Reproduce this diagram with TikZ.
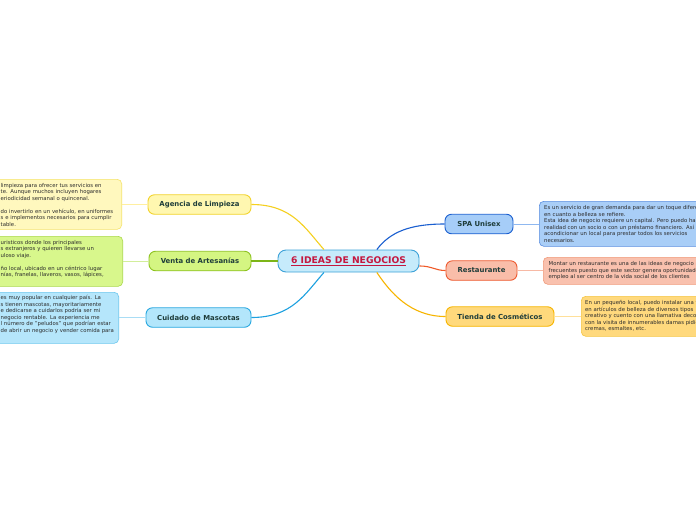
\documentclass[tikz,border=0pt]{standalone}
\usepackage{fontspec}
\setmainfont{DejaVu Sans}
\definecolor{ctrfill}{HTML}{C6EBFB}
\definecolor{ctrdraw}{HTML}{3DA2D8}
\definecolor{ctrtext}{HTML}{C4173F}
\definecolor{btext}{HTML}{1F3D3A}
\definecolor{ntext}{HTML}{2B2B2B}
\definecolor{yfill}{HTML}{FFF7B0}\definecolor{ydraw}{HTML}{F2D32B}\definecolor{ynfill}{HTML}{FFF8BE}\definecolor{yndraw}{HTML}{F5E36B}\definecolor{ylink}{HTML}{F5D020}\definecolor{yleaf}{HTML}{FFEFA0}
\definecolor{gfill}{HTML}{D4F582}\definecolor{gdraw}{HTML}{8DC21F}\definecolor{gnfill}{HTML}{D8F78C}\definecolor{gndraw}{HTML}{AAD84B}\definecolor{glink}{HTML}{7CB518}\definecolor{gleaf}{HTML}{D2EE9B}
\definecolor{bfill}{HTML}{B3E6FB}\definecolor{bdraw}{HTML}{29A8E0}\definecolor{bnfill}{HTML}{B5E6FB}\definecolor{bndraw}{HTML}{6CC7EE}\definecolor{blink}{HTML}{1DA1E0}\definecolor{bleaf}{HTML}{A9DDF5}
\definecolor{sfill}{HTML}{A6CDF8}\definecolor{sdraw}{HTML}{1A5FD0}\definecolor{snfill}{HTML}{A9CEF7}\definecolor{sndraw}{HTML}{5B8FE0}\definecolor{slink}{HTML}{1A5FD0}\definecolor{sleaf}{HTML}{8FB8F0}
\definecolor{rfill}{HTML}{F9BDA9}\definecolor{rdraw}{HTML}{EE5A30}\definecolor{rnfill}{HTML}{F9C1AE}\definecolor{rndraw}{HTML}{F09A7A}\definecolor{rlink}{HTML}{F05A28}\definecolor{rleaf}{HTML}{F7B9A5}
\definecolor{ofill}{HTML}{FFD97C}\definecolor{odraw}{HTML}{F7B500}\definecolor{onfill}{HTML}{FFD97D}\definecolor{ondraw}{HTML}{F5C542}\definecolor{olink}{HTML}{F7B500}\definecolor{oleaf}{HTML}{FFE09A}
\begin{document}
\begin{tikzpicture}[x=1pt,y=-1pt,
  branch/.style={draw, line width=0.9pt, rounded corners=6.5pt, minimum height=19.5pt, inner sep=0pt, font=\fontsize{6.9}{8}\selectfont\bfseries, text=btext},
  notebox/.style={draw, line width=0.6pt, rounded corners=4.5pt, inner sep=0pt},
  notetext/.style={inner sep=0pt, text width=230pt, align=left, anchor=base west, font=\fontsize{5.35}{6.5}\selectfont, text=ntext},
  link/.style={line width=1.1pt},
  leaf/.style={line width=0.8pt}]
\useasboundingbox (0,0) rectangle (696,520);
\clip (0,0) rectangle (696,520);
\fill[white] (0,0) rectangle (696,520);

% central node
\node[draw=ctrdraw, fill=ctrfill, line width=0.9pt, rounded corners=8pt, minimum width=141pt, minimum height=22pt, inner sep=0pt,
  font=\fontsize{9.2}{11}\selectfont\bfseries, text=ctrtext] (ctr) at (348.5,261) {\underline{6 IDEAS DE NEGOCIOS}};

% branch nodes
\node[branch, draw=ydraw, fill=yfill, minimum width=103pt] (agen) at (199.5,204.5) {Agencia de Limpieza};
\node[branch, draw=gdraw, fill=gfill, minimum width=102pt] (vent) at (200,261) {Venta de Artesanías};
\node[branch, draw=bdraw, fill=bfill, minimum width=105pt] (masc) at (198.5,317.5) {Cuidado de Mascotas};
\node[branch, draw=sdraw, fill=sfill, minimum width=68pt] (spa) at (479,224) {SPA Unisex};
\node[branch, draw=rdraw, fill=rfill, minimum width=71pt] (rest) at (481.5,270.5) {Restaurante};
\node[branch, draw=odraw, fill=ofill, minimum width=108pt] (cosm) at (500,316.5) {Tienda de Cosméticos};

% note boxes
\node[notebox, draw=yndraw, fill=ynfill, minimum width=132pt, minimum height=50pt, anchor=north east] (nagen) at (122,179) {};
\node[notebox, draw=gndraw, fill=gnfill, minimum width=133pt, minimum height=50pt, anchor=north east] (nvent) at (123,236) {};
\node[notebox, draw=bndraw, fill=bnfill, minimum width=129pt, minimum height=51pt, anchor=north east] (nmasc) at (119,292) {};
\node[notebox, draw=sndraw, fill=snfill, minimum width=171pt, minimum height=45pt, anchor=north west] (nspa) at (539,201) {};
\node[notebox, draw=rndraw, fill=rnfill, minimum width=167pt, minimum height=27pt, anchor=north west] (nrest) at (543,257) {};
\node[notebox, draw=ondraw, fill=onfill, minimum width=129pt, minimum height=40pt, anchor=north west] (ncosm) at (581,296) {};

% note texts
\node[notetext] (tagen) at (0.5,187) {limpieza para ofrecer tus servicios en\\te. Aunque muchos incluyen hogares\\eriodicidad semanal o quincenal.\\[6.5pt]do invertirlo en un vehículo, en uniformes\\s e implementos necesarios para cumplir\\table.};
\node[notetext] (tvent) at (0.5,244) {uristicos donde los principales\\s extranjeros y quieren llevarse un\\uloso viaje.\\[6.5pt]ño local, ubicado en un céntrico lugar\\nías, franelas, llaveros, vasos, lápices,};
\node[notetext] (tmasc) at (0.5,299.5) {es muy popular en cualquier país. La\\s tienen mascotas, mayoritariamente\\e dedicarse a cuidarlos podría ser mi\\negocio rentable. La experiencia me\\l número de "peludos" que podrían estar\\de abrir un negocio y vender comida para};
\node[notetext] (tspa) at (544,209.5) {Es un servicio de gran demanda para dar un toque diferente\\en cuanto a belleza se refiere.\\Esta idea de negocio requiere un capital. Pero puedo hacerlo\\realidad con un socio o con un préstamo financiero. Así\\acondicionar un local para prestar todos los servicios\\necesarios.};
\node[notetext] (trest) at (548.5,265.5) {Montar un restaurante es una de las ideas de negocio más\\frecuentes puesto que este sector genera oportunidades\\empleo al ser centro de la vida social de los clientes};
\node[notetext] (tcosm) at (585,304.5) {En un pequeño local, puedo instalar una tienda\\en artículos de belleza de diversos tipos\\creativo y cuento con una llamativa decoración\\con la visita de innumerables damas pidiendo\\cremas, esmaltes, etc.};

% main links
\draw[link, ylink] (agen.east) .. controls (292,204.5) and (305,228) .. (ctr.155);
\draw[link, glink] (ctr.west) -- (vent.east);
\draw[link, blink] (masc.east) .. controls (292,317.5) and (305,294) .. (ctr.-155);
\draw[link, slink] (ctr.22) .. controls (390,232) and (410,224) .. (spa.west);
\draw[link, rlink] (ctr.-4) .. controls (432,266) and (435,270.5) .. (rest.west);
\draw[link, olink] (ctr.-22) .. controls (390,292) and (410,316.5) .. (cosm.west);

% leaf links
\draw[leaf, yleaf] (agen.west) -- (nagen.east |- agen.west);
\draw[leaf, gleaf] (vent.west) -- (nvent.east |- vent.west);
\draw[leaf, bleaf] (masc.west) -- (nmasc.east |- masc.west);
\draw[leaf, sleaf] (spa.east) -- (nspa.west |- spa.east);
\draw[leaf, rleaf] (rest.east) -- (nrest.west |- rest.east);
\draw[leaf, oleaf] (cosm.east) -- (ncosm.west |- cosm.east);
\end{tikzpicture}
\end{document}
